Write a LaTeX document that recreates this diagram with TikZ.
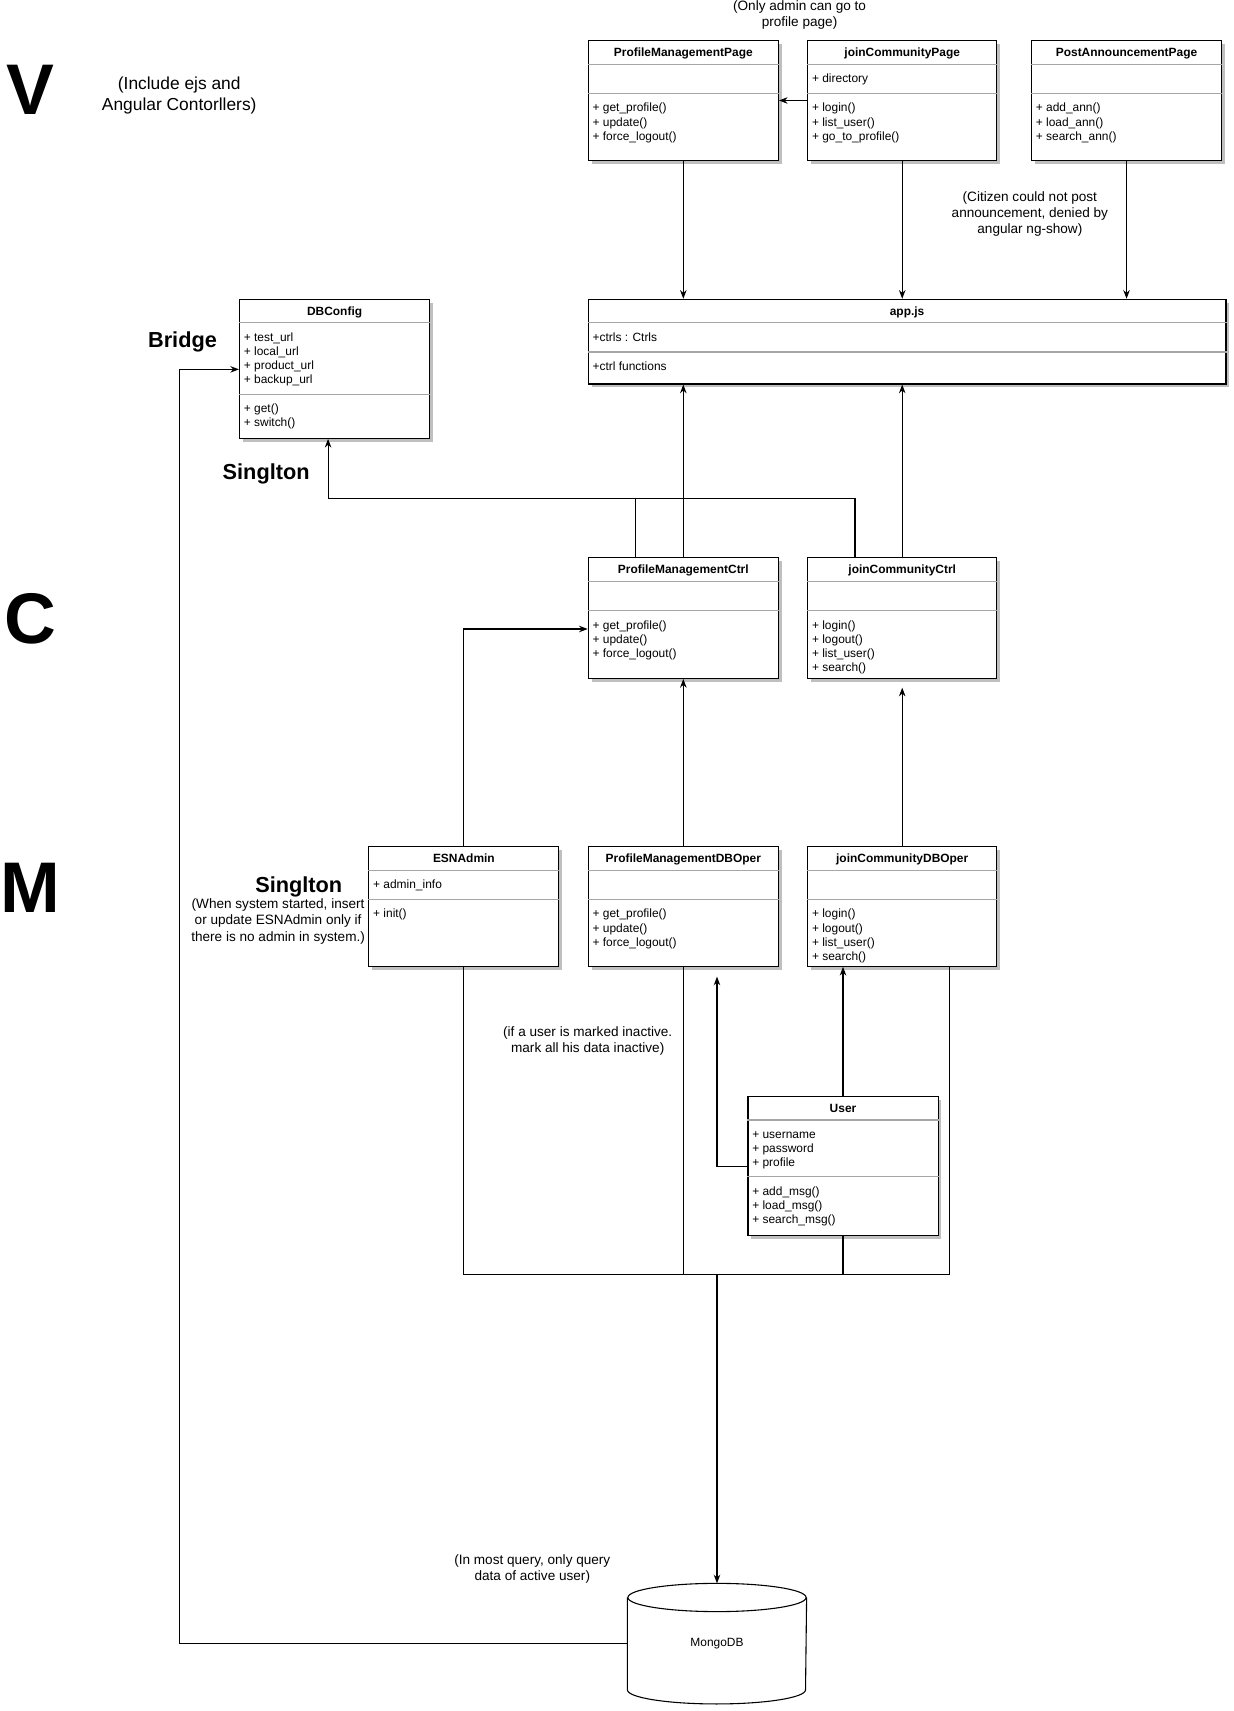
\documentclass[tikz,border=0pt]{standalone}
\usepackage{fontspec}
\setmainfont{Liberation Sans}
\usetikzlibrary{arrows.meta,shadows}

\begin{document}
\begin{tikzpicture}[
        x=1pt, y=-1pt, % coordinates as in the drawing, y grows downwards
        line width=1pt,
        umlclass/.style={draw, fill=white, inner sep=0pt, anchor=north west,
            drop shadow={shadow xshift=3pt, shadow yshift=-3pt, fill=black!25, opacity=1}}, % class box
        umltitle/.style={anchor=base, inner sep=0pt, font=\bfseries\fontsize{11}{13}\selectfont},
        umlmembers/.style={anchor=north west, inner sep=0pt, align=left, font=\fontsize{11}{13}\selectfont},
        umlsplit/.style={draw=black!35},
        remark/.style={align=center, inner sep=0pt, font=\fontsize{12.5}{15}\selectfont}, % notes in brackets
        layer/.style={inner sep=0pt, font=\bfseries\fontsize{66}{70}\selectfont}, % V, C, M
        patname/.style={inner sep=0pt, font=\bfseries\fontsize{20}{24}\selectfont},
        arr/.style={draw, -{Stealth[length=8pt, width=6pt]}},
    ]
    \useasboundingbox (0,0) rectangle (1135,1575);

    % View
    \node[umlclass, minimum width=175pt, minimum height=110pt] (pmpage) at (541,37) {};
    \node[umltitle] (pmpageT) at ([yshift=-15pt]pmpage.north) {ProfileManagementPage};
    \draw[umlsplit] ([yshift=-22pt]pmpage.north west) -- ([yshift=-22pt]pmpage.north east);
    \draw[umlsplit] ([yshift=-49pt]pmpage.north west) -- ([yshift=-49pt]pmpage.north east);
    \node[umlmembers] (pmpageM) at ([xshift=4pt, yshift=-56.4pt]pmpage.north west) {\strut+ get\_profile()\\+ update()\\+ force\_logout()};

    \node[umlclass, minimum width=174pt, minimum height=110pt] (jcpage) at (743,37) {};
    \node[umltitle] (jcpageT) at ([yshift=-15pt]jcpage.north) {joinCommunityPage};
    \draw[umlsplit] ([yshift=-22pt]jcpage.north west) -- ([yshift=-22pt]jcpage.north east);
    \draw[umlsplit] ([yshift=-49pt]jcpage.north west) -- ([yshift=-49pt]jcpage.north east);
    \node[umlmembers] (jcpageA) at ([xshift=4pt, yshift=-29.4pt]jcpage.north west) {\strut+ directory};
    \node[umlmembers] (jcpageM) at ([xshift=4pt, yshift=-56.4pt]jcpage.north west) {\strut+ login()\\+ list\_user()\\+ go\_to\_profile()};

    \node[umlclass, minimum width=175pt, minimum height=110pt] (postpage) at (949,37) {};
    \node[umltitle] (postpageT) at ([yshift=-15pt]postpage.north) {PostAnnouncementPage};
    \draw[umlsplit] ([yshift=-22pt]postpage.north west) -- ([yshift=-22pt]postpage.north east);
    \draw[umlsplit] ([yshift=-49pt]postpage.north west) -- ([yshift=-49pt]postpage.north east);
    \node[umlmembers] (postpageM) at ([xshift=4pt, yshift=-56.4pt]postpage.north west) {\strut+ add\_ann()\\+ load\_ann()\\+ search\_ann()};

    \node[umlclass, minimum width=587pt, minimum height=78pt] (appjs) at (541,275) {};
    \node[umltitle] (appjsT) at ([yshift=-15pt]appjs.north) {app.js};
    \draw[umlsplit] ([yshift=-22pt]appjs.north west) -- ([yshift=-22pt]appjs.north east);
    \draw[umlsplit] ([yshift=-49pt]appjs.north west) -- ([yshift=-49pt]appjs.north east);
    \node[umlmembers] (appjsA) at ([xshift=4pt, yshift=-29.4pt]appjs.north west) {\strut+ctrls : Ctrls};
    \node[umlmembers] (appjsM) at ([xshift=4pt, yshift=-56.4pt]appjs.north west) {\strut+ctrl functions};

    \node[umlclass, minimum width=175pt, minimum height=128pt] (dbconfig) at (220,275) {};
    \node[umltitle] (dbconfigT) at ([yshift=-15pt]dbconfig.north) {DBConfig};
    \draw[umlsplit] ([yshift=-22pt]dbconfig.north west) -- ([yshift=-22pt]dbconfig.north east);
    \draw[umlsplit] ([yshift=-88pt]dbconfig.north west) -- ([yshift=-88pt]dbconfig.north east);
    \node[umlmembers] (dbconfigA) at ([xshift=4pt, yshift=-29.4pt]dbconfig.north west) {\strut+ test\_url\\+ local\_url\\+ product\_url\\+ backup\_url};
    \node[umlmembers] (dbconfigM) at ([xshift=4pt, yshift=-95.4pt]dbconfig.north west) {\strut+ get()\\+ switch()};

    % Controller
    \node[umlclass, minimum width=175pt, minimum height=111pt] (pmctrl) at (541,513) {};
    \node[umltitle] (pmctrlT) at ([yshift=-15pt]pmctrl.north) {ProfileManagementCtrl};
    \draw[umlsplit] ([yshift=-22pt]pmctrl.north west) -- ([yshift=-22pt]pmctrl.north east);
    \draw[umlsplit] ([yshift=-49pt]pmctrl.north west) -- ([yshift=-49pt]pmctrl.north east);
    \node[umlmembers] (pmctrlM) at ([xshift=4pt, yshift=-56.4pt]pmctrl.north west) {\strut+ get\_profile()\\+ update()\\+ force\_logout()};

    \node[umlclass, minimum width=174pt, minimum height=111pt] (jcctrl) at (743,513) {};
    \node[umltitle] (jcctrlT) at ([yshift=-15pt]jcctrl.north) {joinCommunityCtrl};
    \draw[umlsplit] ([yshift=-22pt]jcctrl.north west) -- ([yshift=-22pt]jcctrl.north east);
    \draw[umlsplit] ([yshift=-49pt]jcctrl.north west) -- ([yshift=-49pt]jcctrl.north east);
    \node[umlmembers] (jcctrlM) at ([xshift=4pt, yshift=-56.4pt]jcctrl.north west) {\strut+ login()\\+ logout()\\+ list\_user()\\+ search()};

    % Model
    \node[umlclass, minimum width=175pt, minimum height=110pt] (esnadmin) at (339,779) {};
    \node[umltitle] (esnadminT) at ([yshift=-15pt]esnadmin.north) {ESNAdmin};
    \draw[umlsplit] ([yshift=-22pt]esnadmin.north west) -- ([yshift=-22pt]esnadmin.north east);
    \draw[umlsplit] ([yshift=-49pt]esnadmin.north west) -- ([yshift=-49pt]esnadmin.north east);
    \node[umlmembers] (esnadminA) at ([xshift=4pt, yshift=-29.4pt]esnadmin.north west) {\strut+ admin\_info};
    \node[umlmembers] (esnadminM) at ([xshift=4pt, yshift=-56.4pt]esnadmin.north west) {\strut+ init()};

    \node[umlclass, minimum width=175pt, minimum height=110pt] (pmdbo) at (541,779) {};
    \node[umltitle] (pmdboT) at ([yshift=-15pt]pmdbo.north) {ProfileManagementDBOper};
    \draw[umlsplit] ([yshift=-22pt]pmdbo.north west) -- ([yshift=-22pt]pmdbo.north east);
    \draw[umlsplit] ([yshift=-49pt]pmdbo.north west) -- ([yshift=-49pt]pmdbo.north east);
    \node[umlmembers] (pmdboM) at ([xshift=4pt, yshift=-56.4pt]pmdbo.north west) {\strut+ get\_profile()\\+ update()\\+ force\_logout()};

    \node[umlclass, minimum width=174pt, minimum height=110pt] (jcdbo) at (743,779) {};
    \node[umltitle] (jcdboT) at ([yshift=-15pt]jcdbo.north) {joinCommunityDBOper};
    \draw[umlsplit] ([yshift=-22pt]jcdbo.north west) -- ([yshift=-22pt]jcdbo.north east);
    \draw[umlsplit] ([yshift=-49pt]jcdbo.north west) -- ([yshift=-49pt]jcdbo.north east);
    \node[umlmembers] (jcdboM) at ([xshift=4pt, yshift=-56.4pt]jcdbo.north west) {\strut+ login()\\+ logout()\\+ list\_user()\\+ search()};

    \node[umlclass, minimum width=175pt, minimum height=128pt] (user) at (688,1009) {};
    \node[umltitle] (userT) at ([yshift=-15pt]user.north) {User};
    \draw[umlsplit] ([yshift=-22pt]user.north west) -- ([yshift=-22pt]user.north east);
    \draw[umlsplit] ([yshift=-74pt]user.north west) -- ([yshift=-74pt]user.north east);
    \node[umlmembers] (userA) at ([xshift=4pt, yshift=-29.4pt]user.north west) {\strut+ username\\+ password\\+ profile};
    \node[umlmembers] (userM) at ([xshift=4pt, yshift=-81.4pt]user.north west) {\strut+ add\_msg()\\+ load\_msg()\\+ search\_msg()};

    % database
    \node[minimum width=164pt, minimum height=110pt, inner sep=0pt, font=\fontsize{11}{13}\selectfont] (mongo) at (660,1513) {MongoDB};
    \draw ([yshift=-13pt]mongo.north west) -- ([yshift=13pt]mongo.south west)
        arc[start angle=180, end angle=360, x radius=82pt, y radius=13pt] -- ([yshift=-13pt]mongo.north east);
    \draw ([yshift=-13pt]mongo.north) ellipse [x radius=82pt, y radius=13pt];

    % labels
    \node[layer] (layerV) at (28,83) {V};
    \node[layer] (layerC) at (28,570) {C};
    \node[layer] (layerM) at (28,817) {M};
    \node[patname] (bridge) at (168,315) {Bridge};
    \node[patname] (sglTop) at (245,436) {Singlton};
    \node[patname] (sglEsn) at (275,816) {Singlton};
    \node[remark, font=\fontsize{16}{19}\selectfont] (viewNote) at (165,88) {(Include ejs and\\Angular Contorllers)};
    \node[remark] (adminNote) at (736,14) {(Only admin can go to\\profile page)};
    \node[remark] (citizenNote) at (948,197) {(Citizen could not post\\announcement, denied by\\angular ng-show)};
    \node[remark] (esnNote) at (256,848) {(When system started, insert\\or update ESNAdmin only if\\there is no admin in system.)};
    \node[remark] (inactiveNote) at (541,958) {(if a user is marked inactive.\\mark all his data inactive)};
    \node[remark] (queryNote) at (490,1444) {(In most query, only query\\data of active user)};

    % connectors
    \draw[arr] (jcpage.west) -- (pmpage.east);
    \draw[arr] (pmpage.south) -- (pmpage.south |- appjs.north);
    \draw[arr] (jcpage.south) -- (jcpage.south |- appjs.north);
    \draw[arr] (postpage.south) -- (postpage.south |- appjs.north);
    \draw[arr] (pmctrl.north) -- (pmctrl.north |- appjs.south);
    \draw[arr] (jcctrl.north) -- (jcctrl.north |- appjs.south);
    \draw (pmctrl.north -| 585,0) -- (585,459);
    \draw[arr] (jcctrl.north -| 787,0) |- (302,459) -- (dbconfig.south -| 302,0);
    \draw[arr] (esnadmin.north) |- (pmctrl.west |- 0,579);
    \draw[arr] (pmdbo.north) -- (pmctrl.south);
    \draw[arr, shorten >=8pt] (jcdbo.north) -- (jcdbo.north |- jcctrl.south);
    \draw[arr] (user.north) -- (user.north |- jcdbo.south);
    \draw[arr, shorten >=9pt] (user.west) -| (pmdbo.south -| 660,0);
    \draw (esnadmin.south) -- (esnadmin.south |- 0,1173) -| (jcdbo.south -| 874,0);
    \draw (pmdbo.south) -- (pmdbo.south |- 0,1173);
    \draw (user.south) -- (user.south |- 0,1173);
    \coordinate (bus) at (660,1173);
    \draw[arr] (bus) -- (mongo.north);
    \draw[arr] (mongo.west) -| (165,340) -- (dbconfig.west |- 0,340);
\end{tikzpicture}
\end{document}
